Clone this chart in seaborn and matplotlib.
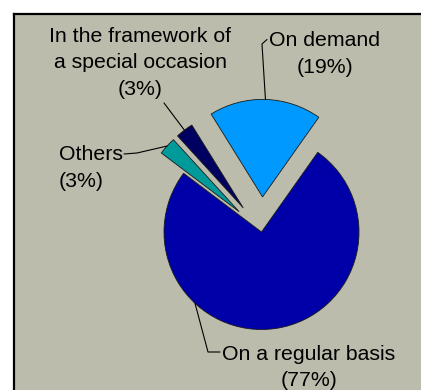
import numpy as np
import matplotlib
matplotlib.use("Agg")
import matplotlib.pyplot as plt
from matplotlib.patches import Rectangle
from matplotlib.lines import Line2D
import seaborn as sns

# Survey shares (percent) by type of use
categories = ["On a regular basis", "On demand",
              "In the framework of\na special occasion", "Others"]
shares = [77, 19, 3, 3]
slice_colors = ["#0000a8", "#0099ff", "#000060", "#009a9a"]
explode = [0.0, 0.36, 0.31, 0.31]

sns.set_theme(style="white")
plt.rcParams["font.family"] = ["Liberation Sans", "DejaVu Sans"]

W, H = 421, 390
fig = plt.figure(figsize=(W / 100, H / 100), dpi=100, facecolor="white")

# chart area: grey panel whose black frame runs off the right and bottom edges
x0, y1 = 13.5 / W, 1 - 13.5 / H
fig.patches.append(Rectangle((x0, 0), 1 - x0, y1, transform=fig.transFigure,
                             facecolor="#bcbcac", edgecolor="none", zorder=-10))
for xs, ys in (([x0, 1], [y1, y1]), ([x0, x0], [0, y1])):
    fig.lines.append(Line2D(xs, ys, transform=fig.transFigure, color="black",
                            linewidth=1.6, solid_capstyle="projecting", zorder=-9))

ax = fig.add_axes([0, 0, 1, 1])
ax.set_zorder(1)
ax.patch.set_alpha(0)

# pie centre and radius in pixel units of the canvas
CX, CY, R = 261.5, 232.0, 97.5


def px(x, y):
    return ((x - CX) / R, (CY - y) / R)


palette = sns.color_palette(slice_colors)
wedges, _ = ax.pie(shares, colors=palette, explode=explode, startangle=143,
                   counterclock=True, radius=1.0,
                   wedgeprops=dict(edgecolor="#1a1a1a", linewidth=0.6))
ax.set_aspect("auto")
ax.set_xlim(-CX / R, (W - CX) / R)
ax.set_ylim(-(H - CY) / R, CY / R)
ax.axis("off")


def arc_point(w, ang=None):
    if ang is None:
        ang = 0.5 * (w.theta1 + w.theta2)
    a = np.deg2rad(ang)
    cx, cy = w.center
    return (cx + w.r * np.cos(a), cy + w.r * np.sin(a))


labels = [f"{c}\n({s}%)" for c, s in zip(categories, shares)]
fs = 15.3
txt_kw = dict(fontsize=fs, color="black", linespacing=1.5, va="center")

# On a regular basis
ax.text(*px(309, 367.5), labels[0], ha="center", multialignment="center", **txt_kw)
p0 = arc_point(wedges[0], 227)
pts = [p0, px(208, 352), px(220, 352)]
ax.plot(*zip(*pts), color="black", lw=0.8)

# On demand
ax.text(*px(324.5, 54), labels[1], ha="center", multialignment="center", **txt_kw)
p1 = arc_point(wedges[1])
pts = [p1, px(262, 44), px(267, 39.5)]
ax.plot(*zip(*pts), color="black", lw=0.8)

# Special occasion
ax.text(*px(140, 63), labels[2], ha="center", multialignment="center", **txt_kw)
p2 = arc_point(wedges[2])
pts = [p2, px(164, 103)]
ax.plot(*zip(*pts), color="black", lw=0.8)

# Others
ax.text(*px(59, 168), labels[3], ha="left", multialignment="left", **txt_kw)
p3 = arc_point(wedges[3])
pts = [p3, px(137, 153), px(124, 154)]
ax.plot(*zip(*pts), color="black", lw=0.8)

fig.savefig("out.png", dpi=100, facecolor="white")
